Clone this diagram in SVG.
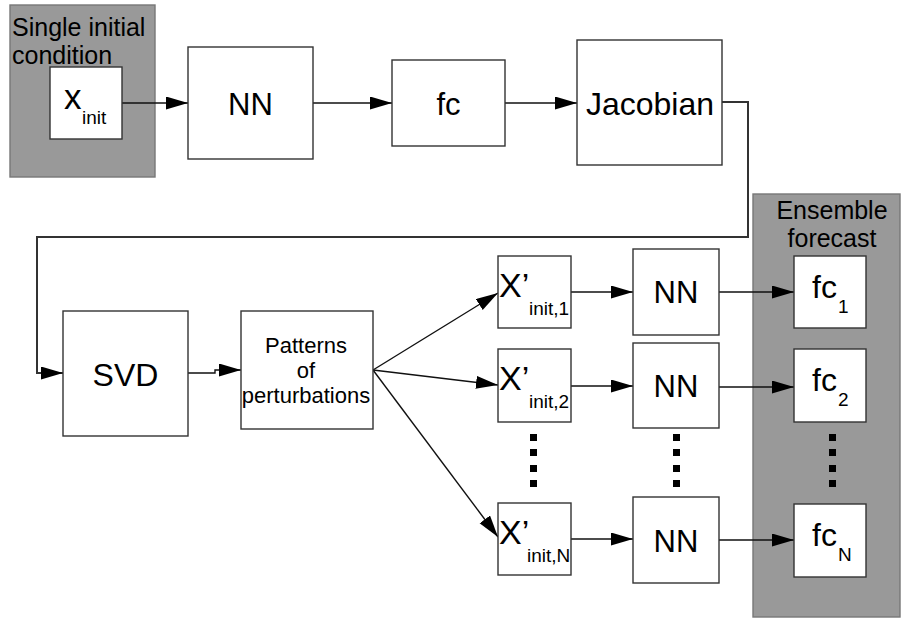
<svg xmlns="http://www.w3.org/2000/svg" width="903" height="619" viewBox="0 0 903 619">
<defs>
<marker id="ah" markerUnits="userSpaceOnUse" markerWidth="23" markerHeight="14" refX="22" refY="6.5" orient="auto">
<path d="M0,0 L22,6.5 L0,13 z" fill="#000"/>
</marker>
<style>
.box{fill:#fff;stroke:#333;stroke-width:1.4}
.grp{fill:#999;stroke:#777;stroke-width:1.4}
.t{font-family:"Liberation Sans",Arial,sans-serif;fill:#000}
.c{fill:none;stroke:#111;stroke-width:1.4}
.dot{fill:#000}
</style>
</defs>
<rect width="903" height="619" fill="#fff"/>
<g id="single-initial-condition">
<rect class="grp" x="10" y="5" width="145" height="172"/>
<text class="t" x="12" y="36" font-size="25">Single initial</text>
<text class="t" x="12" y="64" font-size="25">condition</text>
</g>
<g id="ensemble-forecast">
<rect class="grp" x="753" y="194" width="147" height="423"/>
<text class="t" x="832" y="219" font-size="25" text-anchor="middle">Ensemble</text>
<text class="t" x="832" y="247" font-size="25" text-anchor="middle">forecast</text>
</g>
<g id="connectors">
<path class="c" d="M122,103 H188" marker-end="url(#ah)"/>
<path class="c" d="M313,103 H392" marker-end="url(#ah)"/>
<path class="c" d="M505,103 H577" marker-end="url(#ah)"/>
<path class="c" d="M722,102 H748 V237 H37 V373 H63" marker-end="url(#ah)" style="stroke:#333;stroke-width:2"/>
<path class="c" d="M188,373 H215 V370 H241" marker-end="url(#ah)"/>
<path class="c" d="M373,370 L498,293" marker-end="url(#ah)"/>
<path class="c" d="M373,370 L498,385" marker-end="url(#ah)"/>
<path class="c" d="M373,370 L498,537" marker-end="url(#ah)"/>
<path class="c" d="M571,292 H633" marker-end="url(#ah)"/>
<path class="c" d="M571,386 H633" marker-end="url(#ah)"/>
<path class="c" d="M571,539 H633" marker-end="url(#ah)"/>
<path class="c" d="M719,292 H794" marker-end="url(#ah)"/>
<path class="c" d="M719,387 H794" marker-end="url(#ah)"/>
<path class="c" d="M719,540 H794" marker-end="url(#ah)"/>
</g>
<g id="x-init">
<rect class="box" x="50" y="67" width="72" height="72"/>
<text class="t" x="64" y="109" font-size="35">x</text>
<text class="t" x="82" y="124" font-size="19">init</text>
</g>
<g id="nn-top">
<rect class="box" x="188" y="47" width="125" height="112"/>
<text class="t" x="250.5" y="115" font-size="31" text-anchor="middle">NN</text>
</g>
<g id="fc">
<rect class="box" x="392" y="60" width="113" height="86"/>
<text class="t" x="448.5" y="115" font-size="31" text-anchor="middle">fc</text>
</g>
<g id="jacobian">
<rect class="box" x="577" y="40" width="145" height="125"/>
<text class="t" x="650" y="115" font-size="32" text-anchor="middle">Jacobian</text>
</g>
<g id="svd">
<rect class="box" x="63" y="311" width="125" height="125"/>
<text class="t" x="125.5" y="386" font-size="32" text-anchor="middle">SVD</text>
</g>
<g id="patterns">
<rect class="box" x="241" y="311" width="132" height="118"/>
<text class="t" x="306" y="353" font-size="22" text-anchor="middle">Patterns</text>
<text class="t" x="306" y="378" font-size="22" text-anchor="middle">of</text>
<text class="t" x="306" y="403" font-size="22" text-anchor="middle">perturbations</text>
</g>
<g id="x-init-1">
<rect class="box" x="498" y="256" width="73" height="72"/>
<text class="t" x="499" y="297" font-size="34">X’</text>
<text class="t" x="529" y="315" font-size="19">init,1</text>
</g>
<g id="x-init-2">
<rect class="box" x="498" y="349" width="73" height="73"/>
<text class="t" x="499" y="390" font-size="34">X’</text>
<text class="t" x="529" y="408" font-size="19">init,2</text>
</g>
<g id="x-init-n">
<rect class="box" x="498" y="503" width="73" height="72"/>
<text class="t" x="499" y="544" font-size="34">X’</text>
<text class="t" x="527" y="562" font-size="19">init,N</text>
</g>
<g id="nn-1">
<rect class="box" x="633" y="249" width="86" height="86"/>
<text class="t" x="676" y="303" font-size="31" text-anchor="middle">NN</text>
</g>
<g id="nn-2">
<rect class="box" x="633" y="343" width="86" height="85"/>
<text class="t" x="676" y="397" font-size="31" text-anchor="middle">NN</text>
</g>
<g id="nn-n">
<rect class="box" x="633" y="497" width="86" height="86"/>
<text class="t" x="676" y="552" font-size="31" text-anchor="middle">NN</text>
</g>
<g id="fc-1">
<rect class="box" x="794" y="256" width="72" height="72"/>
<text class="t" x="812" y="298" font-size="32">fc</text>
<text class="t" x="838" y="313" font-size="19">1</text>
</g>
<g id="fc-2">
<rect class="box" x="794" y="349" width="72" height="73"/>
<text class="t" x="812" y="391" font-size="32">fc</text>
<text class="t" x="838" y="406" font-size="19">2</text>
</g>
<g id="fc-n">
<rect class="box" x="794" y="504" width="72" height="73"/>
<text class="t" x="812" y="546" font-size="32">fc</text>
<text class="t" x="838" y="561" font-size="19">N</text>
</g>
<g id="ellipses">
<rect class="dot" x="530" y="434" width="7" height="7"/>
<rect class="dot" x="530" y="449" width="7" height="7"/>
<rect class="dot" x="530" y="465" width="7" height="7"/>
<rect class="dot" x="530" y="480" width="7" height="7"/>
<rect class="dot" x="673" y="434" width="7" height="7"/>
<rect class="dot" x="673" y="449" width="7" height="7"/>
<rect class="dot" x="673" y="465" width="7" height="7"/>
<rect class="dot" x="673" y="480" width="7" height="7"/>
<rect class="dot" x="829" y="434" width="7" height="7"/>
<rect class="dot" x="829" y="449" width="7" height="7"/>
<rect class="dot" x="829" y="465" width="7" height="7"/>
<rect class="dot" x="829" y="480" width="7" height="7"/>
</g>
</svg>
